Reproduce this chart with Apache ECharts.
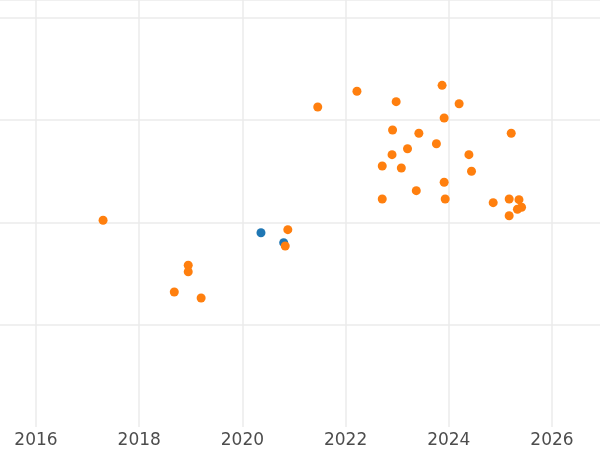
<!DOCTYPE html>
<html>
<head>
<meta charset="utf-8">
<script src="https://cdn.jsdelivr.net/npm/echarts@6/dist/echarts.min.js"></script>
<style>html,body{margin:0;padding:0;background:#fff}#c{width:600px;height:450px}</style>
</head>
<body>
<div id="c"></div>
<script>
const blueX = [2020.36, 2020.80];
const blueY = [1.899, 1.802];
const orangeX = [2017.30, 2018.95, 2018.95, 2018.68, 2019.20, 2020.88, 2020.83, 2021.46, 2022.22, 2022.98,
  2023.87, 2024.20, 2023.91, 2022.91, 2023.42, 2025.21, 2023.76, 2023.20, 2022.90, 2024.39,
  2022.71, 2023.08, 2024.44, 2023.91, 2023.37, 2022.71, 2023.93, 2024.86, 2025.17, 2025.36,
  2025.41, 2025.33, 2025.17];
const orangeY = [2.021, 1.581, 1.518, 1.320, 1.261, 1.929, 1.769, 3.128, 3.282, 3.180,
  3.340, 3.160, 3.021, 2.903, 2.871, 2.871, 2.769, 2.720, 2.662, 2.662,
  2.551, 2.532, 2.500, 2.392, 2.310, 2.229, 2.229, 2.193, 2.229, 2.222,
  2.148, 2.128, 2.065];
const xTicks = [2014, 2016, 2018, 2020, 2022, 2024, 2026, 2028];

const zip = (xs, ys) => xs.map((x, i) => [x, ys[i]]);
const chart = echarts.init(document.getElementById('c'), null, {renderer: 'canvas'});
chart.setOption({
  animation: false,
  backgroundColor: '#ffffff',
  grid: {left: -67.2, right: -55.2, top: 0, bottom: 23, containLabel: false, outerBoundsMode: 'none'},
  xAxis: {
    type: 'value', min: xTicks[0], max: xTicks[xTicks.length - 1], interval: 2,
    axisLine: {show: false}, axisTick: {show: false},
    axisLabel: {color: '#4d4d4d', fontSize: 17, fontFamily: 'DejaVu Sans', margin: 5, formatter: v => String(v)},
    splitLine: {show: true, lineStyle: {color: '#ebebeb', width: 1.5}}
  },
  yAxis: {
    type: 'value', min: 0, max: 4.174, interval: 1,
    axisLine: {show: false}, axisTick: {show: false}, axisLabel: {show: false},
    splitLine: {show: true, showMinLine: false, lineStyle: {color: '#ebebeb', width: 1.5}}
  },
  series: [
    {type: 'scatter', data: zip(blueX, blueY), symbolSize: 9, itemStyle: {color: '#1f77b4', opacity: 1}},
    {type: 'scatter', data: zip(orangeX, orangeY), symbolSize: 9, itemStyle: {color: '#ff7f0e', opacity: 1}}
  ]
});
</script>
</body>
</html>
